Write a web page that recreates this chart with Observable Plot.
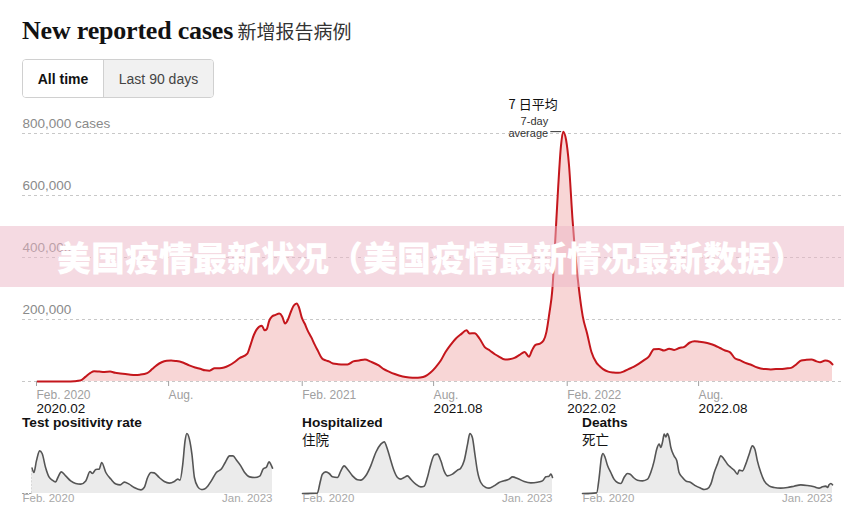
<!DOCTYPE html>
<html><head><meta charset="utf-8">
<script src="https://cdn.jsdelivr.net/npm/d3@7"></script>
<script src="https://cdn.jsdelivr.net/npm/@observablehq/plot@0.6"></script>
<style>
body{margin:0;background:#fff;font-family:"Liberation Sans",Arial,sans-serif;}
#wrap{position:relative;width:844px;height:515px;overflow:hidden;background:#fff;}
.abs{position:absolute;}
#title{left:22px;top:13px;white-space:nowrap;line-height:36px;}
#title .en{font-family:"Liberation Serif","Times New Roman",serif;font-weight:bold;font-size:26px;color:#121212;letter-spacing:-0.2px;}
#title .zh{font-family:"Noto Sans CJK SC",sans-serif;font-size:19px;color:#333;}
#btns{left:22px;top:59px;width:190px;height:37px;border:1px solid #d0d0d0;border-radius:4px;display:flex;overflow:hidden;}
#btns div{display:flex;align-items:center;justify-content:center;font-size:14px;}
#btns .b1{width:80px;font-weight:bold;color:#121212;background:#fff;}
#btns .b2{flex:1;color:#444;background:#f1f1f1;border-left:1px solid #d0d0d0;}
.pt{font-weight:bold;font-size:13.7px;color:#121212;line-height:16px;}
.pz{font-family:"Noto Sans CJK SC",sans-serif;font-size:13.5px;color:#121212;line-height:16px;}
#banner{left:0;top:226px;width:826px;padding-left:18px;height:61px;background:rgba(236,182,198,0.5);color:#fff;font-family:"Noto Sans CJK SC",sans-serif;font-weight:900;font-size:34px;line-height:61px;text-align:center;white-space:nowrap;}
svg{overflow:visible;}
</style></head><body>
<div id="wrap">
  <div id="title" class="abs"><span class="en">New reported cases</span> <span class="zh">新增报告病例</span></div>
  <div id="btns" class="abs"><div class="b1">All time</div><div class="b2">Last 90 days</div></div>
  <div id="main" class="abs" style="left:0;top:100px"></div>
  <div class="abs pt" style="left:22px;top:415px">Test positivity rate</div>
  <div class="abs pt" style="left:302px;top:415px">Hospitalized</div>
  <div class="abs pz" style="left:302px;top:431px">住院</div>
  <div class="abs pt" style="left:582px;top:415px">Deaths</div>
  <div class="abs pz" style="left:582px;top:431px">死亡</div>
  <div id="p1" class="abs" style="left:22px;top:425px"></div>
  <div id="p2" class="abs" style="left:302px;top:425px"></div>
  <div id="p3" class="abs" style="left:582px;top:425px"></div>
  <div id="banner" class="abs">美国疫情最新状况（美国疫情最新情况最新数据）</div>
</div>
<script>
// ---------- data ----------
// 7-day average of new reported cases (thousands)
const caseDates = ["2020-01-21","2020-03-01","2020-03-12","2020-03-20","2020-03-27","2020-04-03","2020-04-08","2020-04-15","2020-04-22","2020-04-30","2020-05-07","2020-05-14","2020-05-21","2020-05-28","2020-06-04","2020-06-10","2020-06-20","2020-06-27","2020-07-03","2020-07-10","2020-07-17","2020-07-23","2020-07-30","2020-08-07","2020-08-15","2020-08-25","2020-09-01","2020-09-08","2020-09-14","2020-09-21","2020-09-28","2020-10-04","2020-10-11","2020-10-18","2020-10-25","2020-11-05","2020-11-09","2020-11-14","2020-11-18","2020-11-25","2020-11-29","2020-12-02","2020-12-05","2020-12-09","2020-12-14","2020-12-19","2020-12-23","2020-12-27","2020-12-31","2021-01-04","2021-01-08","2021-01-12","2021-01-15","2021-01-19","2021-01-23","2021-01-27","2021-02-01","2021-02-06","2021-02-10","2021-02-16","2021-02-21","2021-02-26","2021-03-03","2021-03-10","2021-03-17","2021-03-23","2021-03-31","2021-04-08","2021-04-16","2021-04-24","2021-05-05","2021-05-12","2021-05-19","2021-05-27","2021-06-07","2021-06-16","2021-06-25","2021-07-01","2021-07-08","2021-07-15","2021-07-22","2021-07-29","2021-08-05","2021-08-12","2021-08-19","2021-08-26","2021-09-03","2021-09-07","2021-09-14","2021-09-21","2021-09-28","2021-10-05","2021-10-12","2021-10-17","2021-10-26","2021-11-01","2021-11-08","2021-11-15","2021-11-22","2021-11-28","2021-12-02","2021-12-07","2021-12-13","2021-12-18","2021-12-22","2021-12-26","2021-12-30","2022-01-03","2022-01-07","2022-01-11","2022-01-14","2022-01-18","2022-01-22","2022-01-27","2022-02-01","2022-02-05","2022-02-10","2022-02-16","2022-02-22","2022-03-01","2022-03-05","2022-03-10","2022-03-17","2022-03-24","2022-03-31","2022-04-07","2022-04-14","2022-04-21","2022-04-28","2022-05-05","2022-05-12","2022-05-19","2022-05-26","2022-06-02","2022-06-09","2022-06-16","2022-06-23","2022-06-30","2022-07-07","2022-07-14","2022-07-21","2022-07-28","2022-08-04","2022-08-11","2022-08-18","2022-08-25","2022-09-01","2022-09-08","2022-09-15","2022-09-22","2022-09-29","2022-10-06","2022-10-13","2022-10-20","2022-10-27","2022-11-03","2022-11-10","2022-11-17","2022-11-24","2022-12-01","2022-12-08","2022-12-15","2022-12-22","2022-12-29","2023-01-03","2023-01-10","2023-01-16","2023-01-20"];
const caseValues = [0,0.2,1,3,15,28,33,32,31,32,28,26,24,22,21,22,27,40,52,62,67,68,66,62,54,45,41,36,35,43,43,45,52,62,75,90,115,150,168,180,165,170,195,210,215,219,210,187,200,225,245,252,240,206,187,165,143,118,100,74,68,64,58,56,55,55,65,68,71,64,52,40,32,24,16,13,12,13,17,28,45,66,95,118,138,152,165,155,156,138,111,100,88,81,71,72,76,86,95,80,100,118,122,132,160,220,293,450,620,760,806,780,700,520,380,293,210,155,95,60,50,40,32,29,28,32,40,47,57,68,80,104,105,100,106,102,108,112,125,130,128,126,122,116,108,100,94,74,68,60,55,47,42,40,39,40,40,42,44,55,68,70,71,65,62,68,64,55];

const yTicks = [200, 400, 600, 800];
const yTickLabels = ["200,000", "400,000", "600,000", "800,000 cases"];
const xTickDates = ["2020-02-01","2020-08-01","2021-02-01","2021-08-01","2022-02-01","2022-08-01"];
const xTickLabels = ["Feb. 2020","Aug.","Feb. 2021","Aug.","Feb. 2022","Aug."];
const cnTickDates = ["2020-02-01","2021-08-01","2022-02-01","2022-08-01"];
const cnTickLabels = ["2020.02","2021.08","2022.02","2022.08"];
const peakDate = "2022-01-14", peakValue = 806;

// Test positivity rate (%)
const posDates = ["2020-03-03","2020-03-11","2020-03-22","2020-04-05","2020-04-16","2020-05-01","2020-05-16","2020-05-30","2020-06-14","2020-06-24","2020-07-09","2020-07-28","2020-08-19","2020-09-10","2020-10-02","2020-10-24","2020-11-12","2020-11-22","2020-12-07","2020-12-22","2021-01-02","2021-01-20","2021-02-11","2021-03-05","2021-03-24","2021-04-11","2021-05-02","2021-05-24","2021-06-23","2021-07-07","2021-07-22","2021-08-06","2021-08-20","2021-09-11","2021-10-03","2021-10-25","2021-11-16","2021-12-01","2021-12-11","2021-12-23","2022-01-02","2022-01-10","2022-01-21","2022-02-01","2022-02-12","2022-02-27","2022-03-14","2022-03-28","2022-04-12","2022-04-27","2022-05-19","2022-06-10","2022-06-27","2022-07-16","2022-07-31","2022-08-15","2022-09-03","2022-09-20","2022-10-12","2022-11-03","2022-11-25","2022-12-10","2022-12-25","2023-01-05","2023-01-12","2023-01-20"];
const posValues = [12.7,10.5,16.3,21.3,20,13,8.3,6.7,5.8,8,10.8,8.8,6.3,5,4.7,6.3,11,10,12,12.2,15.5,10.5,7.2,4.7,4.3,5.7,4.7,3,1.8,3,8,10.5,10.3,8,6,5.2,6,7.2,6.7,14.7,26.3,30,27.2,19.7,8,3.3,2,2.3,3.8,6.3,10.5,12.2,15.5,18.8,18.8,16.7,13.8,10.5,8.3,8,8.7,12.2,13.3,15.8,14.7,12.7];
const posGapDates = ["2020-01-21","2020-03-03","2020-03-03"];
const posGapValues = [0,0,12.7];

// Hospitalized (thousands)
const hospDates = ["2020-01-21","2020-03-26","2020-04-07","2020-04-17","2020-05-02","2020-05-17","2020-05-31","2020-06-22","2020-07-07","2020-07-21","2020-08-05","2020-08-27","2020-09-18","2020-10-02","2020-10-24","2020-11-15","2020-12-07","2020-12-29","2021-01-13","2021-01-27","2021-02-11","2021-02-25","2021-03-12","2021-03-27","2021-04-10","2021-04-25","2021-05-09","2021-05-31","2021-06-22","2021-07-07","2021-07-21","2021-08-05","2021-08-20","2021-09-03","2021-09-18","2021-10-02","2021-10-17","2021-11-08","2021-11-30","2021-12-14","2021-12-29","2022-01-13","2022-01-23","2022-02-03","2022-02-14","2022-02-25","2022-03-12","2022-04-03","2022-04-17","2022-05-09","2022-05-31","2022-06-22","2022-07-14","2022-07-29","2022-08-20","2022-09-18","2022-10-17","2022-11-15","2022-12-07","2022-12-22","2023-01-05","2023-01-13","2023-01-20"];
const hospValues = [0,1,33,58,65,60,50,48,68,83,73,53,41,40,53,83,123,148,155,133,98,68,48,43,48,53,43,28,20,22,48,88,115,118,98,68,53,58,70,76,98,148,180,168,118,68,33,18,16,23,33,38,43,50,45,36,32,34,38,50,52,58,48];

// Deaths (daily, 7-day average)
const deathDates = ["2020-01-21","2020-03-23","2020-04-03","2020-04-13","2020-04-20","2020-04-29","2020-05-10","2020-05-24","2020-06-07","2020-06-22","2020-07-07","2020-07-21","2020-08-05","2020-08-17","2020-08-31","2020-09-18","2020-10-10","2020-11-01","2020-11-15","2020-11-30","2020-12-11","2020-12-22","2020-12-29","2021-01-05","2021-01-13","2021-01-20","2021-01-27","2021-02-03","2021-02-11","2021-02-25","2021-03-09","2021-03-19","2021-04-03","2021-04-17","2021-05-09","2021-05-31","2021-06-22","2021-07-07","2021-07-21","2021-08-05","2021-08-20","2021-09-03","2021-09-18","2021-10-02","2021-10-17","2021-11-01","2021-11-15","2021-11-30","2021-12-07","2021-12-22","2022-01-05","2022-01-20","2022-02-03","2022-02-14","2022-02-25","2022-03-12","2022-03-27","2022-04-17","2022-05-09","2022-06-07","2022-07-07","2022-08-05","2022-09-03","2022-10-02","2022-11-01","2022-11-22","2022-12-07","2022-12-22","2022-12-29","2023-01-05","2023-01-13","2023-01-20"];
const deathValues = [0,2,48,108,120,108,83,63,43,33,30,48,60,58,48,40,38,43,63,98,133,148,138,153,178,170,180,168,138,113,98,63,48,38,33,23,16,12,14,28,63,88,113,103,88,78,70,58,70,68,88,118,143,133,98,63,38,23,18,16,18,22,26,24,20,16,20,22,18,26,30,26];

// ---------- helpers ----------
const parse = d3.utcParse("%Y-%m-%d");
const zip = (ds, vs) => ds.map((d, i) => ({date: parse(d), value: vs[i]}));
const FONT = '"Liberation Sans", Arial, sans-serif';
const startDate = parse("2020-01-21"), endDate = parse("2023-01-20");

// ---------- main chart ----------
const cases = zip(caseDates, caseValues);
const labelByTime = new Map(xTickDates.map((d, i) => [+parse(d), xTickLabels[i]]));
const peak = [{date: parse(peakDate), value: peakValue}];

const main = Plot.plot({
  width: 844, height: 320,
  marginLeft: 22, marginRight: 0, marginTop: 33, marginBottom: 39,
  x: {type: "utc", domain: [startDate, endDate], range: [37, 832]},
  y: {domain: [0, 800], range: [281, 33], axis: null},
  style: {fontFamily: FONT, background: "transparent", overflow: "visible"},
  marks: [
    Plot.ruleY([0, ...yTicks], {stroke: "#c8c8c8", strokeDasharray: "3,3", strokeWidth: 1}),
    Plot.text(yTicks, {y: d => d, text: (d, i) => yTickLabels[i], frameAnchor: "left", textAnchor: "start", dy: -10, fill: "#8a8a8a", fontSize: 13.5}),
    Plot.areaY(cases, {x: "date", y: "value", fill: "#f8d6d6", curve: "monotone-x"}),
    Plot.lineY(cases, {x: "date", y: "value", stroke: "#c4161c", strokeWidth: 2, curve: "monotone-x"}),
    Plot.axisX({ticks: xTickDates.map(parse), tickFormat: d => labelByTime.get(+d), tickSize: 5, tickPadding: 4, textAnchor: "start", dx: -9, fontSize: 12, color: "#a0a0a0"}),
    Plot.text(cnTickDates, {x: d => parse(d), y: () => 0, text: (d, i) => cnTickLabels[i], textAnchor: "start", dx: -9, dy: 27, fill: "#111", fontSize: 13.5}),
    Plot.ruleY(peak, {y: "value", x1: () => parse("2021-12-28"), x2: () => parse("2022-01-12"), stroke: "#333", strokeWidth: 1}),
    Plot.text(peak, {x: "date", y: "value", text: () => "7 日平均", dx: -30, dy: -27, fill: "#111", fontSize: 13, fontFamily: '"Noto Sans CJK SC", sans-serif'}),
    Plot.text(peak, {x: "date", y: "value", text: () => "7-day", textAnchor: "end", dx: -15, dy: -10, fill: "#333", fontSize: 11}),
    Plot.text(peak, {x: "date", y: "value", text: () => "average", textAnchor: "end", dx: -15, dy: 2, fill: "#333", fontSize: 11})
  ]
});
document.getElementById("main").appendChild(main);

// ---------- small multiples ----------
function small(el, data, ymax, gap) {
  const marks = [
    Plot.areaY(data, {x: "date", y: "value", fill: "#ebebeb", curve: "monotone-x"}),
    Plot.lineY(data, {x: "date", y: "value", stroke: "#555", strokeWidth: 1.6, curve: "monotone-x"}),
    Plot.text(["Feb. 2020"], {text: d => d, frameAnchor: "bottom-left", textAnchor: "start", dy: 8, fill: "#a8a8a8", fontSize: 11.5}),
    Plot.text(["Jan. 2023"], {text: d => d, frameAnchor: "bottom-right", textAnchor: "end", dy: 8, fill: "#a8a8a8", fontSize: 11.5})
  ];
  if (gap) marks.unshift(Plot.lineY(gap, {x: "date", y: "value", stroke: "#999", strokeWidth: 1.2, strokeDasharray: "1.5,2"}));
  const p = Plot.plot({
    width: 250, height: 85,
    marginLeft: 0, marginRight: 0, marginTop: 8, marginBottom: 17,
    x: {type: "utc", domain: [startDate, endDate], axis: null},
    y: {domain: [0, ymax], axis: null},
    style: {fontFamily: FONT, background: "transparent", overflow: "visible"},
    marks
  });
  document.getElementById(el).appendChild(p);
}
small("p1", zip(posDates, posValues), 30, zip(posGapDates, posGapValues));
small("p2", zip(hospDates, hospValues), 180);
small("p3", zip(deathDates, deathValues), 180);
</script>
</body></html>
